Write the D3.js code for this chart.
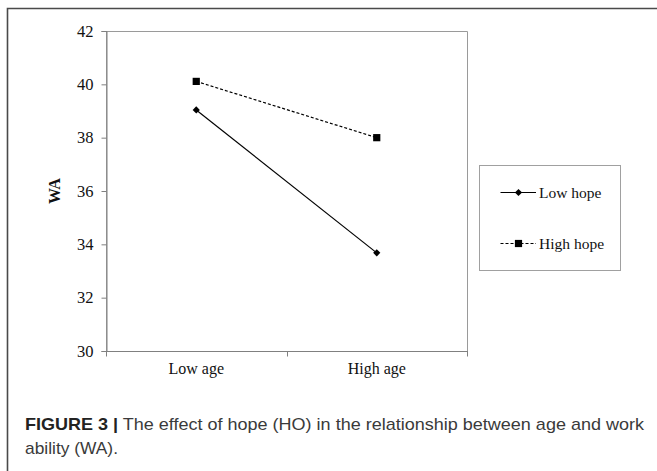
<!DOCTYPE html>
<html>
<head>
<meta charset="utf-8">
<script src="https://cdn.jsdelivr.net/npm/d3@7"></script>
<style>
  html, body { margin: 0; padding: 0; background: #fff; }
  svg { display: block; }
  .ytick text { font-family: 'Liberation Serif', 'DejaVu Serif', serif; font-size: 16.5px; }
</style>
</head>
<body>
<svg id="chart" width="657" height="471"></svg>
<script>
// ---- data ----
const categories = ["Low age", "High age"];
const seriesNames = ["Low hope", "High hope"];
const lowHope = [39.04, 33.68];
const highHope = [40.11, 38.0];
const yTicks = [30, 32, 34, 36, 38, 40, 42];
const yLabel = "WA";
const captionBold = "FIGURE 3 |";
const captionLine1 = " The effect of hope (HO) in the relationship between age and work";
const captionLine2 = "ability (WA).";

const svg = d3.select("#chart");
const serif = "'Liberation Serif', 'DejaVu Serif', serif";
const sans = "'Liberation Sans', Arial, sans-serif";

// outer figure frame (cut at right/bottom)
svg.append("path")
  .attr("d", "M7.5,471 L7.5,8.5 L657,8.5")
  .attr("fill", "none").attr("stroke", "#4a4a4a").attr("stroke-width", 1.6);

const plot = { left: 106, right: 467, top: 31, bottom: 351 };

const x = d3.scaleBand().domain(categories).range([plot.left, plot.right]).padding(0);
const y = d3.scaleLinear().domain([30, 42]).range([plot.bottom, plot.top]);
const cx = c => x(c) + x.bandwidth() / 2;

// plot area border (gray)
svg.append("path")
  .attr("d", `M${plot.left + 0.5},${plot.bottom} L${plot.left + 0.5},${plot.top + 0.5} L${plot.right + 0.5},${plot.top + 0.5} L${plot.right + 0.5},${plot.bottom + 0.5}`)
  .attr("fill", "none").attr("stroke", "#9a9a9a").attr("stroke-width", 1);

// y axis
const yAxis = svg.append("g")
  .attr("class", "ytick")
  .attr("transform", `translate(${plot.left + 0.5},0)`)
  .call(d3.axisLeft(y).tickValues(yTicks).tickSize(5).tickPadding(8).tickFormat(d3.format("d")));
yAxis.attr("font-family", null).attr("font-size", null);
yAxis.select(".domain").attr("stroke", "#808080");
yAxis.selectAll(".tick line").attr("stroke", "#808080");
yAxis.selectAll(".tick text")
  .style("font-family", serif).style("font-size", "16.5px").attr("fill", "#111");

// x axis (ticks at band boundaries, labels at band centers)
const xAxis = svg.append("g")
  .attr("transform", `translate(0,${plot.bottom + 0.5})`);
xAxis.append("line")
  .attr("x1", plot.left).attr("x2", plot.right + 1)
  .attr("stroke", "#808080");
const boundaries = categories.map(c => x(c)).concat([x(categories[categories.length - 1]) + x.bandwidth()]);
xAxis.selectAll(".bt").data(boundaries).enter().append("line")
  .attr("x1", d => Math.round(d) + 0.5).attr("x2", d => Math.round(d) + 0.5)
  .attr("y1", 0).attr("y2", 5).attr("stroke", "#808080");
xAxis.selectAll(".xl").data(categories).enter().append("text")
  .attr("x", d => cx(d)).attr("y", 22)
  .attr("text-anchor", "middle")
  .style("font-family", serif).style("font-size", "16px").attr("fill", "#111")
  .text(d => d);

// y label
svg.append("text")
  .attr("transform", `translate(60,${(plot.top + plot.bottom) / 2}) rotate(-90)`)
  .attr("text-anchor", "middle")
  .style("font-family", serif).style("font-size", "16px").style("font-weight", "bold").attr("fill", "#111")
  .text(yLabel);

// lines
const line = d3.line().x(d => cx(d.c)).y(d => y(d.v));
const lowData = categories.map((c, i) => ({ c, v: lowHope[i] }));
const highData = categories.map((c, i) => ({ c, v: highHope[i] }));

svg.append("path").datum(lowData).attr("d", line)
  .attr("fill", "none").attr("stroke", "#000").attr("stroke-width", 1.2);
svg.append("path").datum(highData).attr("d", line)
  .attr("fill", "none").attr("stroke", "#000").attr("stroke-width", 1.2).attr("stroke-dasharray", "3,2");

// diamond = square rotated 45°
const diamond = d3.symbol().type(d3.symbolSquare).size(26);
const square = d3.symbol().type(d3.symbolSquare).size(52);

svg.selectAll(".dm").data(lowData).enter().append("path")
  .attr("d", diamond).attr("transform", d => `translate(${cx(d.c)},${y(d.v)}) rotate(45)`).attr("fill", "#000");
svg.selectAll(".sq").data(highData).enter().append("path")
  .attr("d", square).attr("transform", d => `translate(${cx(d.c)},${y(d.v)})`).attr("fill", "#000");

// legend
const lg = { x: 479.5, y: 165.5, w: 141, h: 105 };
svg.append("rect").attr("x", lg.x).attr("y", lg.y).attr("width", lg.w).attr("height", lg.h)
  .attr("fill", "#fff").attr("stroke", "#a0a0a0").attr("stroke-width", 1);
const legendItems = [
  { name: seriesNames[0], dash: null, sym: diamond, rot: 45, ly: 192.5 },
  { name: seriesNames[1], dash: "3,2", sym: square, rot: 0, ly: 243.5 }
];
legendItems.forEach(it => {
  svg.append("line").attr("x1", 500.5).attr("x2", 536).attr("y1", it.ly).attr("y2", it.ly)
    .attr("stroke", "#000").attr("stroke-width", 1.2).attr("stroke-dasharray", it.dash);
  svg.append("path").attr("d", it.sym).attr("transform", `translate(518.5,${it.ly}) rotate(${it.rot})`).attr("fill", "#000");
  svg.append("text").attr("x", 539).attr("y", it.ly + 5)
    .style("font-family", serif).style("font-size", "15.5px").attr("fill", "#111").text(it.name);
});

// caption
const cap1 = svg.append("text").attr("x", 25).attr("y", 429.5)
  .style("font-family", sans).style("font-size", "17px").attr("fill", "#3a3a3a");
cap1.append("tspan").style("font-weight", "bold").attr("fill", "#222").text(captionBold);
cap1.append("tspan").text(captionLine1);
cap1.attr("textLength", 619).attr("lengthAdjust", "spacingAndGlyphs");
svg.append("text").attr("x", 25).attr("y", 453.5)
  .style("font-family", sans).style("font-size", "17px").attr("fill", "#3a3a3a")
  .attr("textLength", 93).attr("lengthAdjust", "spacingAndGlyphs")
  .text(captionLine2);
</script>
</body>
</html>
